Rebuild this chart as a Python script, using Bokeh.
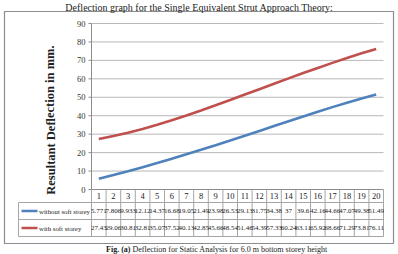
from bokeh.plotting import figure
from bokeh.models import Range1d
from bokeh.core.properties import value
from bokeh.embed import file_html
from bokeh.resources import INLINE

# ---- data ---------------------------------------------------------------
storeys = list(range(1, 21))
without_soft = [5.771, 7.806, 9.933, 12.12, 14.37, 16.68, 19.05, 21.49, 23.98, 26.53,
                29.13, 31.75, 34.38, 37, 39.6, 42.16, 44.66, 47.07, 49.38, 51.49]
with_soft = [27.43, 29.06, 30.81, 32.81, 35.07, 37.52, 40.13, 42.85, 45.66, 48.54,
             51.46, 54.39, 57.33, 60.24, 63.11, 65.92, 68.66, 71.29, 73.81, 76.11]
series_names = ["without soft storey", "with soft storey"]
y_ticks = [0, 10, 20, 30, 40, 50, 60, 70, 80, 90]

title_text = "Deflection graph for the Single Equivalent Strut Approach Theory:"
caption_text = "Deflection for Static Analysis for 6.0 m bottom storey height"
y_title = "Resultant  Deflection in mm."

# ---- layout (pixels) ----------------------------------------------------
W, H = 398, 254
PL, PR, PT, PB = 91, 383, 23, 189   # plot area: x 0.5..20.5, y 0..90
YMAX = 90
N = len(storeys)

def xd(px):
    return 0.5 + (px - PL) / (PR - PL) * N

def yd(py):
    return (PB - py) / (PB - PT) * YMAX

SERIF = value("Liberation Serif")
BLUE, RED = "#4F81BD", "#C0504D"
GRID = "#b8b8b8"
TABLE = "#a6a6a6"

p = figure(width=W, height=H, output_backend="svg", toolbar_location=None,
           x_range=Range1d(xd(0), xd(W)), y_range=Range1d(yd(H), yd(0)),
           min_border=0)
p.axis.visible = False
p.grid.visible = False
p.outline_line_color = None
p.background_fill_color = "white"

# outer chart border
p.quad(left=[xd(4)], right=[xd(393)], top=[yd(11)], bottom=[yd(243)],
       fill_color=None, line_color="#8c8c8c", line_width=1.2)

# horizontal gridlines
x0, x1 = 0.5, N + 0.5
p.segment(x0=[x0] * (len(y_ticks) - 1), x1=[x1] * (len(y_ticks) - 1),
          y0=y_ticks[1:], y1=y_ticks[1:], line_color=GRID, line_width=1)

# value axis, tick marks and labels
p.segment(x0=[x0], x1=[x0], y0=[0], y1=[YMAX], line_color="#8c8c8c", line_width=1)
p.segment(x0=[xd(PL - 3)] * len(y_ticks), x1=[x0] * len(y_ticks),
          y0=y_ticks, y1=y_ticks, line_color="#8c8c8c", line_width=1)
p.text(x=[xd(PL - 6)] * len(y_ticks), y=y_ticks, text=[str(t) for t in y_ticks],
       text_font=SERIF, text_font_size="8.5px", text_align="right",
       text_baseline="middle", text_color="#333333")

# axis title
p.text(x=[xd(50)], y=[yd(118)], text=[y_title], angle=1.5708,
       text_font=SERIF, text_font_style="bold", text_font_size="12.5px",
       text_align="center", text_baseline="middle", text_color="#222222")

# data table grid
row_lines = [202, 219, 236]
p.segment(x0=[x0], x1=[x1], y0=[0], y1=[0], line_color="#8c8c8c", line_width=1)
p.segment(x0=[xd(18)] * len(row_lines), x1=[x1] * len(row_lines),
          y0=[yd(r) for r in row_lines], y1=[yd(r) for r in row_lines],
          line_color=TABLE, line_width=1)
cols = [i + 0.5 for i in range(N + 1)]
p.segment(x0=cols, x1=cols, y0=[0] * len(cols), y1=[yd(236)] * len(cols),
          line_color=TABLE, line_width=1)
p.segment(x0=[xd(18)], x1=[xd(18)], y0=[yd(202)], y1=[yd(236)],
          line_color=TABLE, line_width=1)

# category header
p.text(x=storeys, y=[yd(195.5)] * N, text=[str(s) for s in storeys],
       text_font=SERIF, text_font_size="8.5px", text_align="center",
       text_baseline="middle", text_color="#222222")

# series lines and table rows
rows = [(without_soft, BLUE, 210.5), (with_soft, RED, 227.5)]
for (vals, color, ry), name in zip(rows, series_names):
    p.line(storeys, vals, line_color=color, line_width=2.6)
    p.text(x=storeys, y=[yd(ry)] * N, text=[f"{v:g}" for v in vals],
           text_font=SERIF, text_font_size="7px", text_align="center",
           text_baseline="middle", text_color="#222222")
    p.segment(x0=[xd(21)], x1=[xd(37)], y0=[yd(ry)], y1=[yd(ry)],
              line_color=color, line_width=2.6)
    p.text(x=[xd(38.5)], y=[yd(ry)], text=[name], text_font=SERIF,
           text_font_size="6.8px", text_align="left", text_baseline="middle",
           text_color="#222222")

# title and caption
p.text(x=[xd(199)], y=[yd(7)], text=[title_text], text_font=SERIF,
       text_font_size="10px", text_align="center", text_baseline="alphabetic",
       text_color="#222222")
p.text(x=[xd(130)], y=[yd(244.5)], text=["Fig. (a)"], text_font=SERIF,
       text_font_style="bold", text_font_size="8px", text_align="right",
       text_baseline="top", text_color="#222222")
p.text(x=[xd(132)], y=[yd(244.5)], text=[caption_text], text_font=SERIF,
       text_font_size="8px", text_align="left", text_baseline="top",
       text_color="#222222")

open("out.html", "w").write(file_html(p, INLINE))
